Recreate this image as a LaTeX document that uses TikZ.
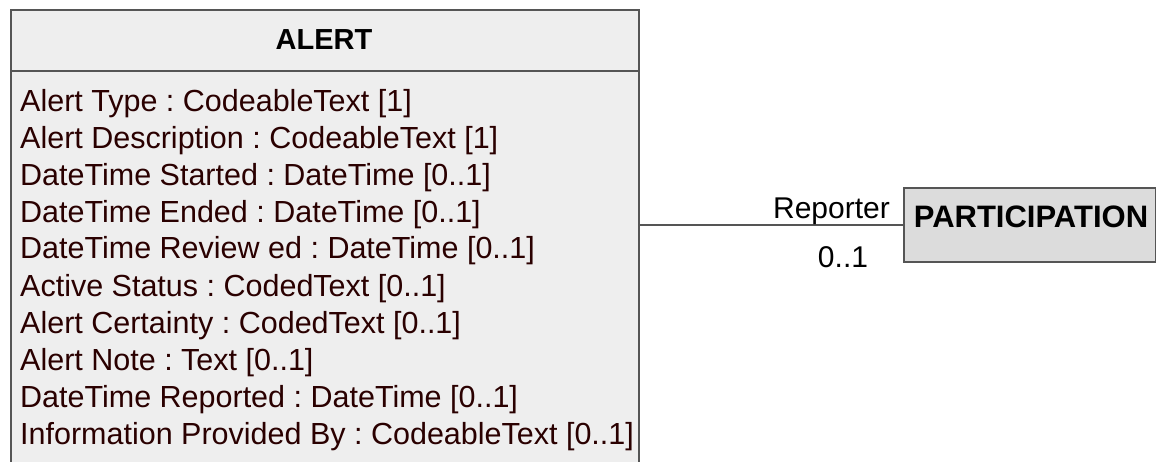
\documentclass[tikz,border=0pt]{standalone}
\usepackage{fontspec}
\setmainfont{Liberation Sans}
\frenchspacing
\definecolor{boxline}{HTML}{555555}
\definecolor{boxfill}{HTML}{EEEEEE}
\definecolor{partfill}{HTML}{DCDCDC}
\definecolor{attrtext}{HTML}{2A0000}
\tikzset{
  attr/.style={anchor=base west, inner sep=0pt, text=attrtext, font=\fontsize{30.5}{30.5}\selectfont\frenchspacing},
  lbl/.style={inner sep=0pt, text=black, font=\fontsize{30}{30}\selectfont},
  title/.style={inner sep=0pt, font=\fontsize{29}{29}\selectfont\bfseries},
  classbox/.style={draw=boxline, line width=2pt, fill=boxfill},
  assoc/.style={draw=boxline, line width=2pt},
}
\begin{document}
\begin{tikzpicture}[x=1pt,y=-1pt]
\useasboundingbox (0,0) rectangle (1156,462);
\clip (0,0) rectangle (1156,462);
% ALERT class
\node[classbox, anchor=north west, minimum width=628pt, minimum height=480pt, inner sep=0pt] (alert) at (10,9) {};
\draw[assoc] (alert.north west |- 0,71) -- (alert.north east |- 0,71);
\node[title] (alerttitle) at (324,40) {ALERT};
\node[attr] (a1) at (20,112) {Alert Type : CodeableText [1]};
\node[attr] (a2) at (20,149) {Alert Description : CodeableText [1]};
\node[attr] (a3) at (20,186) {DateTime Started : DateTime [0..1]};
\node[attr] (a4) at (20,223) {DateTime Ended : DateTime [0..1]};
\node[attr] (a5) at (20,259) {DateTime Review ed : DateTime [0..1]};
\node[attr] (a6) at (20,296) {Active Status : CodedText [0..1]};
\node[attr] (a7) at (20,333) {Alert Certainty : CodedText [0..1]};
\node[attr] (a8) at (20,370) {Alert Note : Text [0..1]};
\node[attr] (a9) at (20,407) {DateTime Reported : DateTime [0..1]};
\node[attr] (a10) at (20,444) {Information Provided By : CodeableText [0..1]};
% PARTICIPATION class
\node[draw=boxline, line width=2pt, fill=partfill, anchor=north west, minimum width=252pt, minimum height=74pt, inner sep=0pt] (part) at (903,187) {};
\node[title, font=\fontsize{31}{31}\selectfont\bfseries, anchor=base] (parttitle) at (1031,228) {PARTICIPATION};
% association
\draw[assoc] (part.west) -- (part.west -| alert.east);
\node[lbl, anchor=base east] (role) at (890,219) {Reporter};
\node[lbl, anchor=base] (mult) at (843,268) {0..1};
\end{tikzpicture}
\end{document}
